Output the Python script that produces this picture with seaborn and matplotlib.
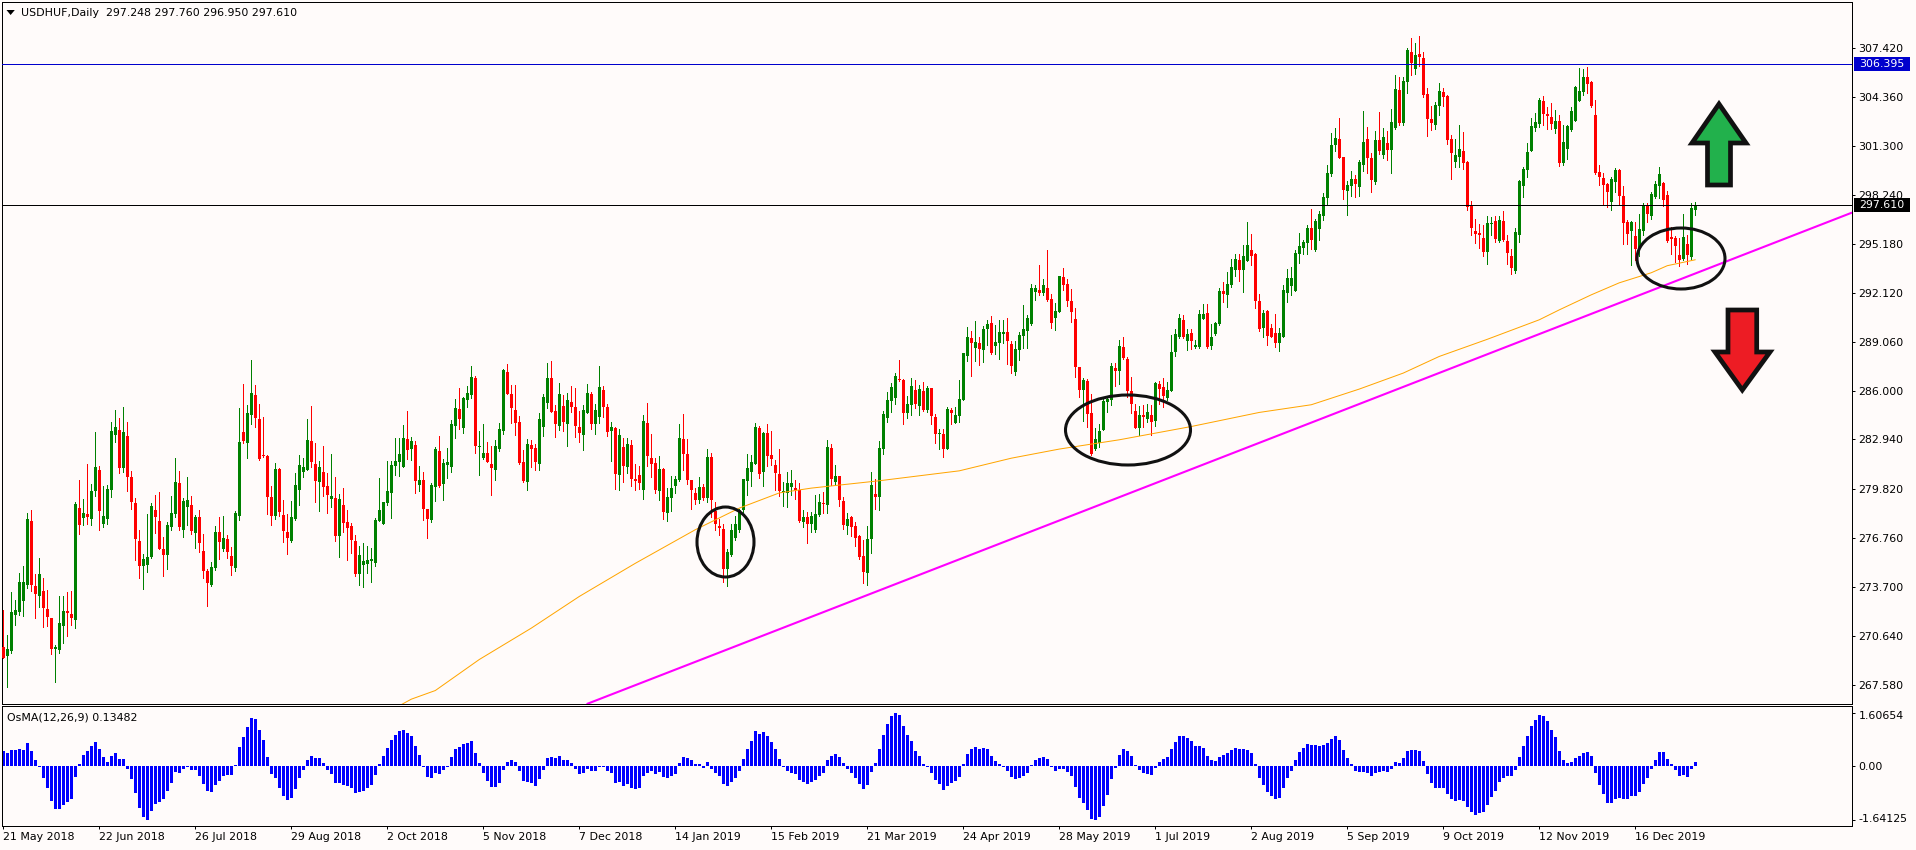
#!/usr/bin/env python

import numpy as np
import matplotlib
matplotlib.use("Agg")
import matplotlib.pyplot as plt
from matplotlib.patches import Ellipse, Polygon, Rectangle
from matplotlib.transforms import ScaledTranslation
import seaborn as sns

# Daily candles
opens = [
    269.96, 269.38, 269.75, 271.98, 272.17, 272.86, 273.86, 277.86, 273.79, 273.17,
    273.48, 272.36, 271.79, 269.86, 269.79, 271.29, 272.23, 272.04, 271.67, 278.67,
    278.04, 278.29, 277.98, 279.73, 281.04, 277.67, 277.98, 279.79, 283.23, 283.54,
    281.17, 283.17, 280.61, 278.98, 276.61, 275.04, 275.11, 275.61, 278.54, 277.86,
    276.11, 275.73, 277.48, 278.29, 280.23, 277.29, 278.73, 278.86, 277.11, 278.11,
    275.98, 274.73, 273.86, 274.92, 277.17, 276.11, 276.73, 275.67, 274.92, 278.17,
    283.42, 282.73, 284.48, 285.73, 284.23, 281.98, 281.92, 279.36, 278.17, 281.11,
    278.23, 277.17, 276.61, 277.98, 279.79, 280.92, 281.04, 282.86, 281.42, 280.29,
    280.92, 280.04, 279.23, 279.29, 276.92, 278.86, 277.79, 277.54, 276.61, 274.54,
    275.11, 275.17, 275.36, 275.23, 277.86, 277.67, 278.98, 279.61, 281.29, 281.54,
    281.23, 282.98, 282.36, 282.61, 280.11, 280.42, 278.61, 277.92, 279.98, 282.23,
    280.17, 281.36, 281.23, 283.79, 284.86, 283.67, 285.42, 285.73, 286.79, 282.48,
    281.79, 282.11, 281.42, 281.04, 282.36, 283.48, 287.17, 285.79, 284.79, 284.04,
    281.54, 280.29, 282.61, 282.42, 281.42, 283.73, 285.23, 286.79, 284.73, 283.79,
    285.04, 283.92, 285.29, 284.98, 283.73, 283.23, 284.61, 285.79, 283.92, 284.36,
    286.04, 284.98, 283.48, 283.67, 280.73, 282.48, 281.23, 282.61, 280.48, 280.73,
    279.79, 283.98, 281.79, 281.48, 279.73, 281.11, 278.36, 279.29, 280.04, 280.42,
    282.98, 282.04, 280.42, 279.61, 279.17, 279.98, 279.29, 281.86, 278.48, 277.54,
    277.36, 274.86, 275.73, 276.79, 277.29, 278.54, 280.36, 280.92, 281.42, 283.67,
    280.92, 283.36, 281.98, 281.36, 280.79, 279.67, 279.61, 279.98, 279.92, 279.79,
    277.79, 278.11, 277.67, 277.29, 278.23, 278.98, 278.86, 282.42, 280.29, 280.67,
    279.11, 277.54, 278.11, 277.54, 276.92, 275.67, 274.61, 276.73, 279.54, 279.36,
    282.36, 284.29, 285.36, 285.54, 286.73, 286.67, 284.61, 285.11, 286.04, 285.04,
    285.98, 284.79, 286.17, 284.36, 283.29, 283.29, 282.36, 284.79, 283.98, 284.38,
    285.42, 288.17, 289.29, 288.67, 288.98, 288.54, 289.86, 290.23, 288.79, 288.98,
    289.54, 289.67, 288.92, 287.17, 288.54, 289.42, 289.73, 290.17, 292.17, 292.29,
    292.11, 292.42, 291.73, 290.54, 290.92, 293.11, 292.67, 291.61, 290.48, 287.48,
    286.04, 286.61, 284.61, 282.36, 282.73, 283.54, 285.29, 285.42, 287.42, 287.23,
    288.73, 287.98, 285.98, 284.73, 283.67, 284.48, 284.23, 284.48, 284.11, 286.42,
    286.23, 285.54, 285.98, 288.42, 289.36, 290.42, 289.11, 289.61, 288.73, 288.73,
    290.48, 290.86, 288.79, 289.54, 290.17, 292.23, 291.98, 292.61, 293.54, 294.17,
    293.54, 294.11, 294.79, 294.54, 291.61, 289.92, 290.98, 289.92, 289.61, 288.98,
    289.36, 292.11, 292.54, 292.23, 294.54, 294.92, 295.23, 296.17, 294.79, 296.11,
    296.92, 298.04, 299.54, 301.36, 301.73, 300.61, 298.48, 298.79, 299.23, 298.73,
    300.11, 301.73, 300.54, 299.04, 301.67, 300.73, 301.48, 301.04, 302.42, 304.79,
    302.73, 305.29, 307.17, 306.11, 307.04, 306.79, 304.54, 302.98, 302.61, 303.79,
    304.67, 304.42, 301.73, 300.29, 300.61, 300.98, 300.29, 297.61, 295.98, 295.86,
    295.54, 294.67, 296.42, 296.61, 295.36, 296.61, 295.36, 294.42, 293.48, 295.73,
    298.79, 299.79, 300.98, 302.42, 302.67, 304.11, 303.29, 303.11, 302.36, 302.86,
    300.23, 301.11, 302.29, 302.86, 304.11, 304.67, 305.61, 305.29, 303.23, 299.67,
    299.29, 298.92, 297.79, 299.04, 299.79, 298.17, 296.54, 295.98, 295.67, 294.92,
    295.98, 297.61, 296.92, 298.11, 298.79, 298.98, 298.23, 295.61, 295.54, 294.48,
    294.23, 295.17, 294.36, 297.25,
]
highs = [
    272.29, 270.73, 273.40, 272.92, 274.59, 275.04, 278.34, 278.54, 274.54, 275.54,
    274.29, 273.54, 271.79, 270.11, 273.17, 273.17, 273.42, 273.48, 279.04, 280.42,
    279.23, 281.42, 280.17, 283.42, 281.29, 280.04, 280.11, 284.04, 284.79, 284.29,
    284.98, 284.04, 280.98, 279.29, 277.29, 275.79, 278.29, 278.98, 279.48, 279.67,
    276.86, 277.79, 279.42, 281.79, 280.98, 279.29, 280.61, 279.42, 278.23, 278.54,
    277.04, 274.86, 275.29, 277.54, 278.11, 278.17, 276.98, 276.23, 278.48, 284.92,
    286.42, 285.11, 287.92, 286.36, 285.17, 284.36, 281.98, 280.04, 281.48, 281.17,
    279.17, 278.29, 279.11, 280.86, 281.98, 281.79, 284.23, 285.04, 282.73, 281.61,
    282.54, 280.86, 282.04, 280.61, 279.54, 279.92, 278.54, 277.73, 276.98, 276.29,
    276.48, 276.29, 276.17, 278.04, 280.54, 279.04, 281.61, 281.61, 283.04, 283.04,
    283.86, 284.73, 283.11, 282.86, 281.29, 280.92, 278.61, 280.23, 282.48, 283.17,
    281.73, 282.42, 284.17, 285.48, 286.17, 285.61, 286.29, 287.54, 286.92, 283.48,
    283.92, 282.79, 282.54, 282.92, 283.98, 287.36, 287.67, 286.36, 286.36, 284.42,
    282.29, 282.98, 282.92, 282.67, 284.61, 285.79, 287.73, 287.86, 285.11, 286.48,
    285.73, 285.86, 286.29, 286.17, 284.73, 285.11, 286.42, 285.92, 285.17, 287.54,
    286.29, 285.17, 284.04, 283.73, 283.61, 283.04, 283.04, 282.92, 281.42, 281.29,
    284.48, 285.23, 283.29, 281.79, 281.92, 281.17, 279.92, 280.67, 280.67, 283.92,
    284.54, 282.98, 280.42, 279.92, 280.61, 280.17, 282.36, 282.11, 279.04, 277.98,
    277.67, 276.11, 277.67, 278.17, 278.61, 280.48, 282.04, 281.98, 283.98, 283.79,
    283.42, 283.92, 283.48, 281.67, 282.36, 280.29, 280.92, 281.04, 280.42, 280.23,
    278.54, 278.42, 278.42, 279.48, 279.54, 279.67, 282.92, 282.67, 281.36, 280.67,
    279.36, 278.36, 278.17, 277.79, 276.98, 276.67, 277.54, 280.92, 280.48, 282.86,
    284.73, 285.92, 286.48, 287.11, 287.92, 286.73, 285.67, 286.79, 286.67, 286.36,
    286.54, 286.29, 286.17, 284.54, 283.61, 283.61, 284.98, 284.92, 284.98, 286.67,
    288.36, 289.98, 289.73, 290.36, 289.36, 290.04, 290.42, 290.67, 290.11, 290.42,
    290.42, 290.54, 289.11, 289.11, 289.67, 291.36, 290.73, 292.67, 292.61, 293.86,
    292.98, 294.79, 292.04, 291.48, 293.17, 293.67, 292.98, 292.36, 291.17, 287.48,
    286.79, 286.73, 285.79, 283.67, 283.92, 285.48, 285.67, 287.73, 287.73, 289.17,
    289.36, 288.11, 286.86, 285.17, 285.04, 285.11, 285.17, 285.11, 286.54, 286.61,
    286.79, 286.54, 289.48, 289.86, 290.79, 290.73, 289.86, 289.86, 289.17, 291.04,
    291.42, 291.42, 290.17, 290.29, 292.42, 292.79, 293.42, 294.23, 294.54, 294.54,
    295.11, 296.54, 295.79, 294.61, 292.04, 291.04, 291.04, 290.17, 290.79, 289.92,
    292.61, 293.61, 293.73, 294.79, 295.86, 295.42, 296.36, 297.36, 296.73, 297.23,
    298.36, 300.09, 302.11, 302.42, 303.04, 300.61, 299.11, 299.73, 299.48, 300.42,
    303.48, 302.48, 300.86, 302.23, 303.42, 302.42, 302.23, 303.61, 305.73, 305.61,
    305.61, 307.42, 308.04, 307.73, 308.17, 307.17, 304.92, 303.79, 304.04, 305.23,
    304.92, 304.48, 301.98, 301.73, 302.61, 302.17, 300.36, 297.86, 296.73, 296.42,
    296.36, 296.92, 296.86, 296.92, 296.92, 297.23, 295.73, 294.86, 296.17, 299.17,
    299.98, 301.48, 303.04, 303.36, 304.29, 304.42, 303.73, 303.98, 303.54, 303.23,
    302.61, 302.61, 303.73, 305.04, 306.17, 306.11, 306.23, 305.36, 304.17, 300.11,
    299.61, 298.98, 299.36, 299.92, 299.86, 298.79, 296.67, 296.61, 296.54, 297.04,
    297.73, 297.73, 298.42, 299.11, 299.98, 299.04, 298.48, 296.23, 295.67, 295.54,
    297.04, 295.73, 297.73, 297.76,
]
lows = [
    269.27, 267.44, 269.59, 271.32, 271.98, 271.88, 273.63, 273.50, 271.79, 272.48,
    271.23, 271.29, 269.54, 267.79, 269.61, 270.23, 270.67, 271.36, 271.17, 277.04,
    277.61, 277.67, 277.61, 279.42, 277.29, 277.48, 277.67, 279.36, 282.79, 280.86,
    280.92, 279.73, 278.61, 275.42, 274.29, 273.61, 274.67, 275.54, 277.11, 276.11,
    274.42, 274.86, 277.29, 278.11, 277.29, 276.86, 277.61, 277.04, 276.17, 275.92,
    274.29, 272.54, 273.79, 274.79, 275.48, 275.98, 275.54, 274.48, 274.73, 277.92,
    282.73, 281.79, 283.92, 283.73, 281.67, 281.86, 278.29, 277.61, 277.98, 278.17,
    276.54, 275.79, 276.54, 277.92, 278.86, 280.61, 281.04, 281.23, 279.04, 278.48,
    279.42, 278.36, 278.73, 276.61, 275.61, 277.17, 275.42, 275.86, 274.42, 273.86,
    273.73, 274.61, 274.04, 275.04, 277.86, 277.67, 278.86, 278.04, 280.73, 280.67,
    281.23, 281.73, 281.67, 279.61, 279.73, 277.92, 276.79, 277.79, 279.11, 279.98,
    279.17, 280.54, 280.92, 283.04, 283.61, 283.36, 284.98, 285.54, 282.11, 280.73,
    281.73, 281.54, 279.48, 280.42, 282.23, 283.29, 285.79, 283.98, 283.23, 281.42,
    280.29, 279.79, 281.23, 281.04, 281.04, 283.17, 284.92, 284.67, 283.11, 283.54,
    283.48, 282.54, 284.67, 283.11, 282.79, 282.29, 284.61, 283.61, 283.29, 283.98,
    284.36, 283.17, 281.61, 279.86, 279.79, 280.29, 280.86, 280.04, 279.79, 279.86,
    279.23, 281.29, 280.61, 279.61, 279.17, 277.98, 277.86, 278.48, 279.61, 280.36,
    281.04, 280.17, 278.61, 278.92, 278.98, 279.17, 279.04, 278.11, 277.29, 276.98,
    274.04, 273.79, 275.67, 276.67, 277.17, 278.42, 279.48, 280.04, 281.42, 280.54,
    280.04, 281.29, 281.36, 279.79, 279.42, 278.79, 278.73, 279.48, 279.23, 277.79,
    277.48, 276.48, 277.17, 277.17, 278.17, 278.36, 278.36, 280.11, 280.11, 278.79,
    277.36, 277.04, 276.92, 276.29, 275.48, 273.98, 273.86, 275.86, 278.61, 278.54,
    282.04, 284.04, 284.67, 285.17, 286.61, 283.92, 284.29, 284.48, 284.92, 284.48,
    284.73, 284.67, 283.92, 282.73, 282.36, 281.86, 282.36, 283.92, 283.98, 284.04,
    285.42, 287.86, 286.92, 287.86, 287.61, 287.79, 288.86, 288.29, 288.29, 287.98,
    288.98, 287.67, 287.11, 286.98, 287.92, 288.67, 288.67, 290.11, 291.67, 291.98,
    291.98, 291.61, 289.92, 289.79, 290.92, 292.29, 291.29, 290.29, 286.86, 285.61,
    284.11, 283.73, 281.98, 282.29, 282.48, 283.54, 284.67, 285.11, 286.29, 286.42,
    287.98, 285.61, 284.61, 283.67, 283.23, 283.73, 284.04, 283.23, 283.79, 285.17,
    284.98, 285.42, 285.98, 288.17, 289.29, 289.29, 288.54, 288.61, 288.67, 288.67,
    290.48, 288.67, 288.61, 289.48, 290.11, 291.54, 291.23, 292.48, 293.17, 292.86,
    292.17, 294.11, 293.86, 291.17, 289.73, 289.36, 288.86, 289.36, 288.73, 288.48,
    289.36, 291.54, 291.98, 292.23, 293.98, 294.54, 294.54, 294.86, 294.73, 295.42,
    296.67, 297.67, 299.42, 300.98, 300.54, 297.98, 296.98, 298.17, 298.11, 298.17,
    299.73, 299.61, 298.42, 298.92, 300.79, 300.54, 300.42, 299.61, 302.36, 302.61,
    302.61, 304.61, 305.73, 305.79, 306.29, 304.36, 301.92, 302.29, 302.36, 303.23,
    303.79, 301.42, 299.23, 299.98, 299.98, 299.86, 297.29, 295.73, 295.23, 294.92,
    294.42, 293.92, 295.73, 295.29, 295.29, 295.36, 293.92, 293.29, 293.36, 295.29,
    298.11, 299.36, 300.98, 302.23, 302.48, 302.61, 302.36, 302.36, 302.11, 300.04,
    300.11, 300.48, 302.23, 302.86, 304.11, 304.48, 304.61, 303.73, 299.54, 298.86,
    297.67, 297.48, 297.29, 298.42, 297.61, 295.17, 295.17, 293.86, 294.17, 294.42,
    295.73, 296.54, 296.73, 298.04, 298.04, 297.54, 295.29, 294.54, 294.04, 293.79,
    294.17, 293.92, 294.23, 296.95,
]
closes = [
    269.27, 269.86, 272.17, 272.29, 274.04, 274.04, 277.98, 273.86, 273.29, 274.54,
    272.42, 271.86, 269.86, 269.98, 271.48, 272.23, 272.11, 271.79, 278.92, 277.61,
    278.36, 278.11, 279.73, 281.23, 278.48, 278.17, 279.86, 283.48, 283.73, 281.17,
    283.42, 280.61, 279.04, 276.73, 275.04, 275.48, 275.61, 278.79, 278.11, 276.11,
    275.73, 277.61, 278.36, 280.29, 277.48, 279.11, 279.17, 277.23, 278.11, 276.48,
    274.73, 273.98, 274.98, 277.17, 276.54, 276.79, 275.92, 275.04, 278.36, 282.79,
    282.86, 284.61, 285.86, 284.29, 281.73, 281.92, 279.36, 278.17, 281.11, 278.42,
    277.23, 276.79, 278.11, 280.11, 281.36, 281.23, 282.92, 281.54, 280.36, 281.23,
    279.98, 279.48, 279.42, 276.92, 279.23, 277.73, 277.42, 276.67, 274.54, 275.73,
    275.36, 275.42, 275.48, 277.92, 278.54, 279.04, 279.73, 281.36, 281.61, 282.04,
    283.04, 282.29, 282.86, 280.36, 280.42, 278.61, 277.98, 280.11, 282.36, 280.04,
    281.48, 281.54, 283.92, 284.92, 284.23, 285.54, 285.86, 286.86, 282.54, 282.54,
    282.11, 281.54, 281.17, 282.54, 283.61, 287.29, 285.79, 284.92, 283.98, 281.48,
    280.36, 282.67, 282.36, 281.54, 284.23, 285.61, 286.79, 284.67, 283.92, 285.79,
    284.04, 285.42, 284.98, 283.79, 283.36, 284.79, 285.86, 283.92, 284.79, 286.23,
    284.98, 283.42, 283.73, 280.79, 283.23, 281.29, 282.67, 280.48, 280.36, 280.23,
    284.11, 281.92, 281.42, 279.79, 281.11, 278.42, 279.36, 279.92, 280.48, 283.04,
    282.04, 280.42, 279.79, 279.17, 279.98, 279.29, 281.86, 279.17, 277.67, 277.42,
    274.86, 275.92, 277.29, 277.67, 278.54, 280.48, 281.17, 281.54, 283.73, 280.79,
    283.36, 281.92, 281.73, 280.86, 279.73, 279.73, 280.23, 280.23, 279.79, 277.86,
    278.11, 277.67, 278.17, 278.29, 279.04, 278.92, 282.48, 280.48, 280.67, 279.17,
    277.61, 277.98, 277.48, 276.79, 275.61, 274.67, 276.73, 280.11, 279.36, 282.42,
    284.54, 285.42, 286.23, 286.92, 286.67, 284.61, 285.17, 286.29, 285.17, 286.11,
    284.79, 286.17, 284.42, 283.29, 283.36, 282.36, 284.86, 284.61, 284.48, 285.48,
    288.36, 289.36, 288.98, 289.04, 288.61, 289.86, 290.17, 288.36, 289.04, 289.67,
    289.67, 289.11, 287.54, 288.61, 289.48, 289.86, 290.54, 292.42, 292.42, 292.11,
    292.61, 291.67, 290.23, 290.98, 293.17, 292.61, 291.61, 290.92, 287.48, 286.04,
    286.67, 284.54, 282.04, 282.98, 283.48, 285.36, 285.48, 287.54, 287.23, 288.79,
    288.04, 285.98, 285.17, 283.67, 284.48, 284.36, 284.67, 284.04, 286.48, 286.11,
    285.67, 286.04, 288.42, 289.54, 290.54, 289.36, 289.54, 289.11, 288.86, 290.79,
    290.79, 288.73, 289.36, 290.23, 292.23, 292.04, 292.67, 293.73, 294.23, 293.54,
    294.42, 295.11, 294.42, 291.61, 289.86, 290.86, 289.42, 289.36, 288.98, 289.61,
    292.29, 293.04, 293.04, 294.61, 295.04, 295.29, 296.17, 295.42, 296.61, 297.04,
    298.11, 299.61, 301.36, 301.79, 300.54, 298.54, 298.86, 299.23, 298.92, 300.29,
    301.54, 300.54, 299.17, 301.67, 300.98, 301.86, 301.04, 302.79, 304.86, 302.73,
    305.36, 307.29, 306.48, 306.98, 306.86, 304.48, 302.98, 302.73, 303.86, 304.73,
    304.36, 301.67, 300.86, 300.73, 301.11, 300.23, 297.48, 296.17, 295.79, 295.73,
    294.67, 296.48, 296.48, 295.48, 296.67, 295.42, 294.61, 293.67, 295.92, 299.11,
    299.86, 300.92, 302.54, 302.79, 304.17, 303.29, 303.17, 302.67, 302.86, 300.23,
    301.54, 302.54, 303.48, 304.98, 304.73, 305.61, 305.17, 303.79, 299.61, 299.36,
    298.86, 298.42, 299.23, 299.79, 298.17, 296.48, 295.79, 296.54, 294.86, 296.11,
    297.61, 297.04, 298.29, 298.92, 299.54, 297.92, 295.36, 295.48, 295.04, 294.17,
    295.61, 294.48, 297.42, 297.61,
]

# OsMA histogram, one value per candle
osma_values = [
    0.45, 0.39, 0.48, 0.48, 0.52, 0.48, 0.70, 0.45, 0.18, -0.03,
    -0.36, -0.67, -1.06, -1.30, -1.30, -1.18, -1.09, -1.00, -0.33, 0.06,
    0.33, 0.45, 0.61, 0.73, 0.52, 0.27, 0.12, 0.30, 0.39, 0.21,
    0.21, -0.09, -0.39, -0.82, -1.27, -1.55, -1.64, -1.36, -1.15, -1.09,
    -1.00, -0.76, -0.52, -0.18, -0.21, -0.09, -0.03, -0.12, -0.12, -0.30,
    -0.55, -0.76, -0.79, -0.58, -0.45, -0.30, -0.27, -0.27, 0.03, 0.58,
    0.88, 1.18, 1.45, 1.42, 1.09, 0.79, 0.27, -0.24, -0.36, -0.67,
    -0.91, -1.03, -0.97, -0.70, -0.36, -0.12, 0.18, 0.30, 0.24, 0.24,
    0.09, -0.12, -0.24, -0.52, -0.52, -0.58, -0.61, -0.67, -0.82, -0.79,
    -0.76, -0.67, -0.58, -0.27, 0.06, 0.30, 0.55, 0.79, 0.94, 1.06,
    1.09, 1.00, 0.91, 0.61, 0.33, -0.03, -0.33, -0.36, -0.21, -0.24,
    -0.12, -0.03, 0.27, 0.52, 0.58, 0.67, 0.70, 0.76, 0.39, 0.09,
    -0.21, -0.45, -0.64, -0.64, -0.52, -0.12, 0.12, 0.18, 0.12, -0.15,
    -0.45, -0.48, -0.52, -0.61, -0.39, -0.12, 0.24, 0.27, 0.24, 0.30,
    0.18, 0.18, 0.09, -0.09, -0.24, -0.21, -0.09, -0.15, -0.15, -0.03,
    -0.03, -0.15, -0.21, -0.52, -0.48, -0.61, -0.55, -0.67, -0.70, -0.67,
    -0.30, -0.21, -0.15, -0.24, -0.18, -0.33, -0.36, -0.30, -0.24, 0.09,
    0.27, 0.24, 0.18, 0.06, 0.06, -0.06, 0.12, -0.09, -0.21, -0.30,
    -0.55, -0.61, -0.48, -0.36, -0.15, 0.21, 0.52, 0.76, 1.06, 0.97,
    1.03, 0.91, 0.73, 0.52, 0.21, -0.03, -0.15, -0.21, -0.24, -0.42,
    -0.48, -0.55, -0.48, -0.42, -0.30, -0.21, 0.18, 0.30, 0.36, 0.27,
    0.09, -0.09, -0.21, -0.36, -0.55, -0.70, -0.58, -0.18, 0.09, 0.52,
    0.94, 1.27, 1.52, 1.61, 1.55, 1.21, 0.94, 0.76, 0.45, 0.30,
    0.06, -0.03, -0.21, -0.42, -0.55, -0.73, -0.61, -0.52, -0.45, -0.33,
    0.06, 0.36, 0.52, 0.58, 0.52, 0.55, 0.52, 0.30, 0.15, 0.06,
    -0.03, -0.15, -0.33, -0.39, -0.36, -0.30, -0.21, 0.03, 0.18, 0.24,
    0.27, 0.21, -0.03, -0.15, -0.09, -0.09, -0.18, -0.30, -0.64, -0.97,
    -1.12, -1.33, -1.62, -1.64, -1.55, -1.21, -0.88, -0.39, -0.06, 0.33,
    0.52, 0.45, 0.30, 0.03, -0.12, -0.21, -0.24, -0.27, -0.06, 0.12,
    0.21, 0.27, 0.52, 0.73, 0.91, 0.91, 0.85, 0.76, 0.61, 0.61,
    0.55, 0.30, 0.18, 0.15, 0.27, 0.33, 0.39, 0.48, 0.55, 0.52,
    0.52, 0.48, 0.39, 0.06, -0.36, -0.58, -0.79, -0.91, -1.00, -0.97,
    -0.67, -0.36, -0.15, 0.18, 0.42, 0.55, 0.67, 0.64, 0.64, 0.61,
    0.64, 0.70, 0.82, 0.91, 0.79, 0.48, 0.24, 0.06, -0.15, -0.18,
    -0.18, -0.21, -0.30, -0.21, -0.18, -0.15, -0.18, -0.09, 0.12, 0.09,
    0.24, 0.45, 0.48, 0.48, 0.45, 0.15, -0.24, -0.52, -0.67, -0.67,
    -0.67, -0.85, -1.00, -1.06, -1.03, -1.06, -1.24, -1.39, -1.48, -1.42,
    -1.39, -1.18, -0.94, -0.76, -0.48, -0.36, -0.30, -0.30, -0.12, 0.27,
    0.61, 0.91, 1.21, 1.39, 1.55, 1.52, 1.36, 1.09, 0.88, 0.45,
    0.18, 0.09, 0.12, 0.24, 0.30, 0.39, 0.42, 0.30, -0.21, -0.58,
    -0.85, -1.12, -1.12, -1.00, -0.97, -1.00, -1.00, -0.91, -0.91, -0.79,
    -0.55, -0.36, -0.09, 0.18, 0.42, 0.42, 0.21, 0.06, -0.12, -0.30,
    -0.27, -0.33, -0.09, 0.13,
]

# Moving average and trendline, by candle number
ma_bars = [99, 102, 108, 119, 132, 144, 158, 173, 184, 194, 202, 219, 239, 252, 264,
           279, 297, 314, 327, 339, 350, 359, 371, 384, 389, 397, 404, 412, 416, 423]
ma_values = [266.30, 266.71, 267.25, 269.19, 271.15, 273.13, 275.20, 277.30, 278.65, 279.60,
             279.90, 280.36, 280.98, 281.77, 282.34, 282.92, 283.75, 284.63, 285.11, 286.09,
             287.09, 288.13, 289.20, 290.42, 291.04, 291.98, 292.73, 293.36, 293.80, 294.17]
trend_bars = [146.0, 462.1]
trend_values = [266.42, 297.11]

resistance = 306.395
last_price = 297.610

price_ticks = [307.420, 304.360, 301.300, 298.240, 295.180, 292.120, 289.060, 286.000,
               282.940, 279.820, 276.760, 273.700, 270.640, 267.580]
osma_ticks = [1.60654, 0.0, -1.64125]
osma_tick_labels = ["1.60654", "0.00", "-1.64125"]
date_labels = ["21 May 2018", "22 Jun 2018", "26 Jul 2018", "29 Aug 2018", "2 Oct 2018",
               "5 Nov 2018", "7 Dec 2018", "14 Jan 2019", "15 Feb 2019", "21 Mar 2019",
               "24 Apr 2019", "28 May 2019", "1 Jul 2019", "2 Aug 2019", "5 Sep 2019",
               "9 Oct 2019", "12 Nov 2019", "16 Dec 2019"]
date_bars = [0, 24, 48, 72, 96, 120, 144, 168, 192, 216, 240, 264, 288, 312, 336, 360, 384, 408]

WIDTH = 1916
HEIGHT = 850
BG = "#FFFBFA"
TEXT_SIZE = 7.9


# Pixel position in the picture to figure fractions
def fig_xy(x, y):
    return x / WIDTH, 1 - y / HEIGHT


def axes_rect(left, top, right, bottom):
    return [left / WIDTH, 1 - bottom / HEIGHT, (right - left) / WIDTH, (bottom - top) / HEIGHT]


sns.set_theme(style="white", rc={"axes.facecolor": BG, "figure.facecolor": BG,
                                 "axes.edgecolor": "black", "axes.linewidth": 0.72})
plt.rcParams["font.family"] = ["DejaVu Sans"]

fig = plt.figure(figsize=(WIDTH / 100, HEIGHT / 100), dpi=100)
# the -0.2 keeps the pixel snapping on the same rows and columns as the original
ax_price = fig.add_axes(axes_rect(2.3, 2.3, 1852.3, 704.3))
ax_osma = fig.add_axes(axes_rect(2.3, 706.3, 1852.3, 826.3))

bars = np.arange(len(closes))
opens = np.array(opens)
closes = np.array(closes)
up = closes >= opens
candle_colors = np.where(up, "#008000", "#FF0000")

# Candles
ax_price.vlines(bars, lows, highs, colors=candle_colors, linewidth=0.72, antialiased=False, zorder=2)
ax_price.bar(bars, np.maximum(np.abs(closes - opens), 0.04), bottom=np.minimum(opens, closes),
             width=0.75, color=candle_colors, linewidth=0, antialiased=False, zorder=3)

# Levels, moving average, trendline
ax_price.axhline(resistance, color="#0000CD", linewidth=0.72, antialiased=False, zorder=4)
ax_price.axhline(last_price, color="black", linewidth=0.72, antialiased=False, zorder=4)
sns.lineplot(x=ma_bars, y=ma_values, ax=ax_price, color="#FFA500", linewidth=0.72, estimator=None, zorder=5)
sns.lineplot(x=trend_bars, y=trend_values, ax=ax_price, color="#FF00FF", linewidth=1.5, estimator=None, zorder=5)

ax_price.set_xlim(-0.25, 462.25)
ax_price.set_ylim(266.39, 310.26)
ax_price.set_xticks([])
ax_price.yaxis.tick_right()
ax_price.set_yticks(price_ticks)
ax_price.set_yticklabels([f"{t:.3f}" for t in price_ticks])
ax_price.tick_params(axis="y", right=True, length=2.2, width=0.72, pad=2.2, labelsize=TEXT_SIZE, colors="black")

# OsMA panel
sns.barplot(x=bars, y=osma_values, ax=ax_osma, native_scale=True, color="#0000FF", saturation=1,
            width=0.75, linewidth=0, antialiased=False)
ax_osma.set_xlim(-0.25, 462.25)
ax_osma.set_ylim(-1.833, 1.803)
ax_osma.yaxis.tick_right()
ax_osma.set_yticks(osma_ticks)
ax_osma.set_yticklabels(osma_tick_labels)
ax_osma.set_xticks(date_bars)
ax_osma.set_xticklabels(date_labels, ha="left")
ax_osma.tick_params(axis="y", right=True, length=2.2, width=0.72, pad=2.2, labelsize=TEXT_SIZE, colors="black")
ax_osma.tick_params(axis="x", bottom=True, length=2.2, width=0.72, pad=2.2, labelsize=TEXT_SIZE, colors="black")
ax_osma.set_xlabel("")
ax_osma.set_ylabel("")

# The platform keeps its top and bottom labels inside the panel
labels = ax_osma.get_yticklabels()
labels[0].set_transform(labels[0].get_transform() + ScaledTranslation(0, -2.7 / 100, fig.dpi_scale_trans))
labels[2].set_transform(labels[2].get_transform() + ScaledTranslation(0, 2.3 / 100, fig.dpi_scale_trans))

# Header texts
fig.add_artist(Polygon([fig_xy(6.5, 10), fig_xy(14.8, 10), fig_xy(10.6, 15)], closed=True,
                       transform=fig.transFigure, color="black", linewidth=0))
x, y = fig_xy(21, 12.5)
fig.text(x, y, "USDHUF,Daily  297.248 297.760 296.950 297.610", fontsize=TEXT_SIZE, va="center", color="black")
x, y = fig_xy(7, 717.5)
fig.text(x, y, "OsMA(12,26,9) 0.13482", fontsize=TEXT_SIZE, va="center", color="black")

# Price tags on the axis
for value, face in [(resistance, "#0000CD"), (last_price, "black")]:
    centre = 48 + (307.42 - value) * 16
    x0, y0 = fig_xy(1854, centre + 7)
    fig.add_artist(Rectangle((x0, y0), 56 / WIDTH, 14 / HEIGHT, transform=fig.transFigure,
                             facecolor=face, edgecolor="none", zorder=5))
    x, y = fig_xy(1859, centre)
    fig.text(x, y, f"{value:.3f}", fontsize=TEXT_SIZE, va="center", color="white", zorder=6)

# Hand drawn ellipses
for cx, cy, w, h in [(725.5, 542, 57, 70), (1128, 430, 125, 70), (1681, 258.5, 88, 61)]:
    fig.add_artist(Ellipse(fig_xy(cx, cy), w / WIDTH, h / HEIGHT, transform=fig.transFigure,
                           facecolor="none", edgecolor="#111111", linewidth=2.2, zorder=7))

# Hand drawn arrows
up_arrow = [(1719, 104), (1692, 143), (1707.5, 143), (1707.5, 185), (1730.5, 185), (1730.5, 143), (1746, 143)]
down_arrow = [(1742.3, 390), (1715, 352), (1728, 352), (1728, 310), (1756.7, 310), (1756.7, 352), (1770, 352)]
fig.add_artist(Polygon([fig_xy(*p) for p in up_arrow], closed=True, transform=fig.transFigure,
                       facecolor="#22B14C", edgecolor="#111111", linewidth=3.4, joinstyle="miter", zorder=7))
fig.add_artist(Polygon([fig_xy(*p) for p in down_arrow], closed=True, transform=fig.transFigure,
                       facecolor="#ED1C24", edgecolor="#111111", linewidth=3.4, joinstyle="miter", zorder=7))

fig.savefig("out.png", dpi=100, facecolor=BG)
